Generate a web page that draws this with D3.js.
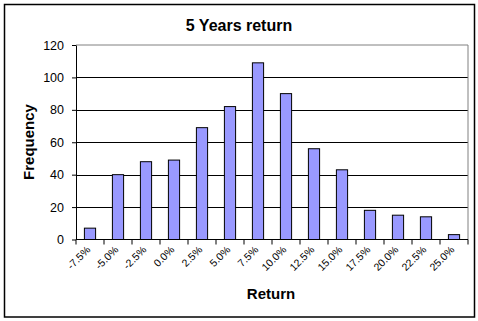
<!DOCTYPE html>
<html>
<head>
<meta charset="utf-8">
<script src="https://cdn.jsdelivr.net/npm/d3@7"></script>
<style>
  body { margin: 0; background: #fff; }
  svg { display: block; font-family: Arial, "Liberation Sans", sans-serif; }
</style>
</head>
<body>
<svg id="chart" width="478" height="321"></svg>
<script>
// --- Histogram: 5 Years return ---
const returns = ["-7.5%", "-5.0%", "-2.5%", "0.0%", "2.5%", "5.0%", "7.5%",
    "10.0%", "12.5%", "15.0%", "17.5%", "20.0%", "22.5%", "25.0%"];
const frequency = [7, 40, 48, 49, 69, 82, 109, 90, 56, 43, 18, 15, 14, 3];
const yTicks = [0, 20, 40, 60, 80, 100, 120];

const svg = d3.select("#chart"),
    margin = { top: 45, right: 10, bottom: 82, left: 76 },
    width = 468 - margin.left,
    height = 239.5 - margin.top;

// outer frame
svg.append("rect")
    .attr("x", 4.5).attr("y", 4.5)
    .attr("width", 470).attr("height", 312.5)
    .attr("fill", "#fff")
    .attr("stroke", "#000")
    .attr("stroke-width", 1.5);

const g = svg.append("g")
    .attr("transform", `translate(${margin.left},${margin.top})`);

const x = d3.scaleBand()
    .domain(returns)
    .range([0, width])
    .paddingInner(0.6)
    .paddingOuter(0.3);

const y = d3.scaleLinear()
    .domain([0, 120])
    .range([height, 0]);

// gridlines
g.selectAll(".grid")
    .data(yTicks.filter(d => d > 0 && d < 120))
    .enter()
    .append("line")
    .attr("x1", 0).attr("x2", width)
    .attr("y1", d => Math.round(y(d)) + 0.5)
    .attr("y2", d => Math.round(y(d)) + 0.5)
    .attr("stroke", "#000");

// plot area border (top, right)
g.append("path")
    .attr("d", `M0,${y(120)}H${width}V${height}`)
    .attr("fill", "none")
    .attr("stroke", "#808080");

g.selectAll(".bar")
    .data(frequency)
    .enter()
    .append("rect")
    .attr("class", "bar")
    .attr("x", (d, i) => x(returns[i]))
    .attr("y", d => y(d))
    .attr("width", x.bandwidth())
    .attr("height", d => height - y(d))
    .attr("fill", "#9999ff")
    .attr("stroke", "#000")
    .attr("stroke-width", 1);

// y axis
const yAxis = g.append("g")
    .call(d3.axisLeft(y).tickValues(yTicks).tickSize(4).tickPadding(8).tickSizeOuter(0));
yAxis.select(".domain").attr("stroke", "#000");
yAxis.selectAll("text").attr("font-size", 12.5).attr("fill", "#000").attr("font-family", "Arial, 'Liberation Sans', sans-serif");

// x axis: ticks at category boundaries
const xAxisG = g.append("g").attr("transform", `translate(0,${height})`);
xAxisG.append("line")
    .attr("x1", 0).attr("x2", width)
    .attr("stroke", "#000");
const step = x.step();
xAxisG.selectAll(".tick")
    .data(d3.range(returns.length + 1))
    .enter()
    .append("line")
    .attr("x1", i => i * step).attr("x2", i => i * step)
    .attr("y1", 0).attr("y2", 5)
    .attr("stroke", "#000");

xAxisG.selectAll(".label")
    .data(returns)
    .enter()
    .append("text")
    .attr("transform", d => `translate(${x(d) + x.bandwidth() / 2 + 1},${11}) rotate(-45)`)
    .attr("text-anchor", "end")
    .attr("font-size", 10.5)
    .attr("fill", "#000")
    .text(d => d);

// titles
svg.append("text")
    .attr("x", 239).attr("y", 31)
    .attr("text-anchor", "middle")
    .attr("font-size", 16).attr("font-weight", "bold")
    .text("5 Years return");

svg.append("text")
    .attr("x", 271).attr("y", 299)
    .attr("text-anchor", "middle")
    .attr("font-size", 15).attr("font-weight", "bold")
    .text("Return");

svg.append("text")
    .attr("transform", "translate(34,142) rotate(-90)")
    .attr("text-anchor", "middle")
    .attr("font-size", 15).attr("font-weight", "bold")
    .text("Frequency");
</script>
</body>
</html>
